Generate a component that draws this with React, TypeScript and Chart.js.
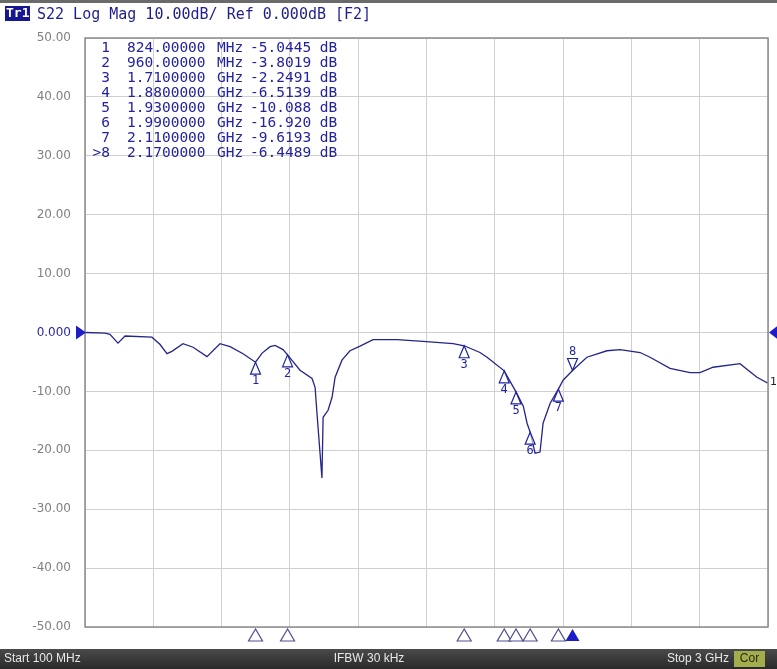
import React, { useEffect, useRef } from "react";
import { Chart, registerables } from "chart.js";

Chart.register(...registerables);

// ---- data ----
const freqMHz = [100,185,206,240,270,384,418,448,469,516,559,618,673,716,771,824,852,886,907,941,960,1013,1064,1077,1085,1098,1106,1111,1132,1149,1162,1191,1225,1268,1323,1425,1535,1663,1710,1777,1807,1880,1930,1961,1977,1990,2011,2032,2045,2075,2110,2130,2170,2231,2316,2372,2457,2499,2584,2669,2711,2767,2881,2953,3000];
const s22dB = [0,-0.1,-0.3,-1.8,-0.6,-0.8,-2.0,-3.6,-3.2,-1.9,-2.5,-4.1,-1.9,-2.4,-3.6,-5.04,-3.5,-2.4,-2.2,-2.9,-3.8,-6.4,-7.8,-9.3,-13.7,-20.5,-24.7,-14.4,-13.2,-11,-7.6,-4.7,-3.1,-2.3,-1.2,-1.2,-1.5,-1.9,-2.25,-3.4,-4.2,-6.51,-10.09,-12.5,-15.4,-16.92,-20.5,-20.3,-15.4,-12,-9.62,-8.1,-6.45,-4.2,-3.1,-2.9,-3.4,-4.2,-6.1,-6.8,-6.8,-5.9,-5.3,-7.6,-8.6];

const markerNums = [1, 2, 3, 4, 5, 6, 7, 8];
const markerFreqs = [824, 960, 1710, 1880, 1930, 1990, 2110, 2170];
const markerVals = [-5.0445, -3.8019, -2.2491, -6.5139, -10.088, -16.92, -9.6193, -6.4489];
const activeMarker = 8;

const headerTrace = "Tr1";
const headerText = "S22 Log Mag 10.00dB/ Ref 0.000dB [F2]";
const statusStart = "Start 100 MHz";
const statusIFBW = "IFBW 30 kHz";
const statusStop = "Stop 3 GHz";
const statusCor = "Cor";

const X_MIN = 100, X_MAX = 3000, X_STEP = 290;
const Y_MIN = -50, Y_MAX = 50, Y_STEP = 10;

const BLUE = "#2323a0";
const MONO = "'DejaVu Sans Mono', monospace";

function fmtFreq(f: number) {
  return f < 1000 ? { v: f.toFixed(5), u: "MHz" } : { v: (f / 1000).toFixed(7), u: "GHz" };
}

const decorPlugin = {
  id: "vnaDecor",
  afterDatasetsDraw(chart: any) {
    const { ctx, chartArea, scales } = chart;
    const xs = scales.x, ys = scales.y;
    ctx.save();
    // frame
    ctx.strokeStyle = "#8c8c8c";
    ctx.lineWidth = 1.5;
    ctx.strokeRect(chartArea.left, chartArea.top, chartArea.right - chartArea.left, chartArea.bottom - chartArea.top);

    // reference level arrows
    const y0 = ys.getPixelForValue(0);
    ctx.fillStyle = "#1e1ec8";
    ctx.beginPath();
    ctx.moveTo(chartArea.left - 9, y0 - 7);
    ctx.lineTo(chartArea.left + 1, y0);
    ctx.lineTo(chartArea.left - 9, y0 + 7);
    ctx.closePath();
    ctx.fill();
    ctx.beginPath();
    ctx.moveTo(chartArea.right + 10, y0 - 7);
    ctx.lineTo(chartArea.right + 1, y0);
    ctx.lineTo(chartArea.right + 10, y0 + 7);
    ctx.closePath();
    ctx.fill();

    // trace number at right end
    const lastY = ys.getPixelForValue(s22dB[s22dB.length - 1]);
    ctx.fillStyle = "#202040";
    ctx.font = "11px 'DejaVu Sans'";
    ctx.textAlign = "left";
    ctx.textBaseline = "middle";
    ctx.fillText("1", chartArea.right + 2, lastY - 1);

    // markers on trace
    ctx.font = `12px ${MONO}`;
    ctx.textAlign = "center";
    markerNums.forEach((n, i) => {
      const px = xs.getPixelForValue(markerFreqs[i]);
      const py = ys.getPixelForValue(markerVals[i]);
      ctx.strokeStyle = BLUE;
      ctx.lineWidth = 1.2;
      ctx.fillStyle = "rgba(255,255,255,0.6)";
      ctx.beginPath();
      if (n === activeMarker) {
        ctx.moveTo(px, py);
        ctx.lineTo(px - 5, py - 12);
        ctx.lineTo(px + 5, py - 12);
      } else {
        ctx.moveTo(px, py);
        ctx.lineTo(px - 5, py + 12);
        ctx.lineTo(px + 5, py + 12);
      }
      ctx.closePath();
      ctx.fill();
      ctx.stroke();
      ctx.fillStyle = BLUE;
      ctx.textBaseline = "middle";
      if (n === activeMarker) ctx.fillText(String(n), px, py - 19);
      else ctx.fillText(String(n), px, py + 19);
    });

    // marker strip below plot
    markerNums.forEach((n, i) => {
      const px = xs.getPixelForValue(markerFreqs[i]);
      const top = chartArea.bottom + 2;
      ctx.beginPath();
      ctx.moveTo(px, top);
      ctx.lineTo(px - 7, top + 12);
      ctx.lineTo(px + 7, top + 12);
      ctx.closePath();
      if (n === activeMarker) {
        ctx.fillStyle = "#1e1ec8";
        ctx.fill();
      } else {
        ctx.fillStyle = "#ffffff";
        ctx.fill();
        ctx.strokeStyle = "#505090";
        ctx.lineWidth = 1.2;
        ctx.stroke();
      }
    });

    // marker table
    ctx.font = `14.5px ${MONO}`;
    ctx.fillStyle = BLUE;
    ctx.textBaseline = "middle";
    markerNums.forEach((n, i) => {
      const ty = chartArea.top + 10 + i * 15;
      const f = fmtFreq(markerFreqs[i]);
      ctx.textAlign = "right";
      ctx.fillText((n === activeMarker ? ">" : "") + n, chartArea.left + 25, ty);
      ctx.textAlign = "left";
      ctx.fillText(f.v, chartArea.left + 42, ty);
      ctx.fillText(f.u, chartArea.left + 132, ty);
      ctx.fillText(markerVals[i].toPrecision(5) + " dB", chartArea.left + 165, ty);
    });

    ctx.restore();
  },
  afterDraw(chart: any) {
    const { ctx, width, height } = chart;
    ctx.save();
    // top bar line
    ctx.fillStyle = "#6a6a6a";
    ctx.fillRect(0, 0, width, 3);
    // header
    ctx.fillStyle = "#161690";
    ctx.fillRect(5, 6, 25, 15);
    ctx.font = `bold 13px ${MONO}`;
    ctx.fillStyle = "#ffffff";
    ctx.textBaseline = "middle";
    ctx.textAlign = "left";
    ctx.fillText(headerTrace, 6, 14);
    ctx.font = `15px ${MONO}`;
    ctx.fillStyle = "#1e1e8c";
    ctx.fillText(headerText, 37, 15);

    // status bar
    const sy = height - 20;
    const grad = ctx.createLinearGradient(0, sy, 0, height);
    grad.addColorStop(0, "#4a4a4a");
    grad.addColorStop(1, "#2a2a2a");
    ctx.fillStyle = grad;
    ctx.fillRect(0, sy, width, 20);
    ctx.font = "12px 'Liberation Sans'";
    ctx.fillStyle = "#e8e8e8";
    ctx.textAlign = "left";
    ctx.fillText(statusStart, 4, sy + 10);
    ctx.textAlign = "center";
    ctx.fillText(statusIFBW, 369, sy + 10);
    ctx.textAlign = "right";
    ctx.fillText(statusStop, 729, sy + 10);
    ctx.fillStyle = "#a4ad4c";
    ctx.fillRect(734, sy + 2, 31, 16);
    ctx.fillStyle = "#2a2a10";
    ctx.textAlign = "center";
    ctx.fillText(statusCor, 749.5, sy + 10);
    ctx.restore();
  },
};

export default function App() {
  const ref = useRef<HTMLCanvasElement | null>(null);
  useEffect(() => {
    document.body.style.margin = "0";
    const canvas = ref.current!;
    const chart = new Chart(canvas, {
      type: "line",
      data: {
        datasets: [
          {
            data: freqMHz.map((f, i) => ({ x: f, y: s22dB[i] })),
            borderColor: "#24248a",
            borderWidth: 1.3,
            pointRadius: 0,
            tension: 0,
            fill: false,
          },
        ],
      },
      options: {
        responsive: false,
        animation: false,
        events: [],
        layout: { padding: { top: 38, right: 9, bottom: 42, left: 0 } },
        plugins: { legend: { display: false }, tooltip: { enabled: false } },
        scales: {
          x: {
            type: "linear",
            min: X_MIN,
            max: X_MAX,
            ticks: { display: false, stepSize: X_STEP },
            grid: { color: "#cfcfcf", drawTicks: false, lineWidth: 1 },
            border: { display: false },
            afterBuildTicks(scale: any) {
              const t = [];
              for (let i = 0; i <= 10; i++) t.push({ value: X_MIN + i * X_STEP });
              scale.ticks = t;
            },
            afterFit(scale: any) {
              scale.height = 0;
            },
          },
          y: {
            min: Y_MIN,
            max: Y_MAX,
            ticks: {
              stepSize: Y_STEP,
              padding: 14,
              font: { family: "'DejaVu Sans'", size: 12 },
              color: (c: any) => (c.tick && c.tick.value === 0 ? "#2a2aa0" : "#808080"),
              callback: (v: any) => (Number(v) === 0 ? "0.000" : Number(v).toFixed(2)),
            },
            grid: { color: "#cfcfcf", drawTicks: false, lineWidth: 1 },
            border: { display: false },
            afterFit(scale: any) {
              scale.width = 85;
            },
          },
        },
      },
      plugins: [decorPlugin],
    });
    return () => chart.destroy();
  }, []);
  return (
    <div style={{ width: 777, height: 669, background: "#ffffff" }}>
      <canvas ref={ref} width={777} height={669} style={{ display: "block" }} />
    </div>
  );
}
